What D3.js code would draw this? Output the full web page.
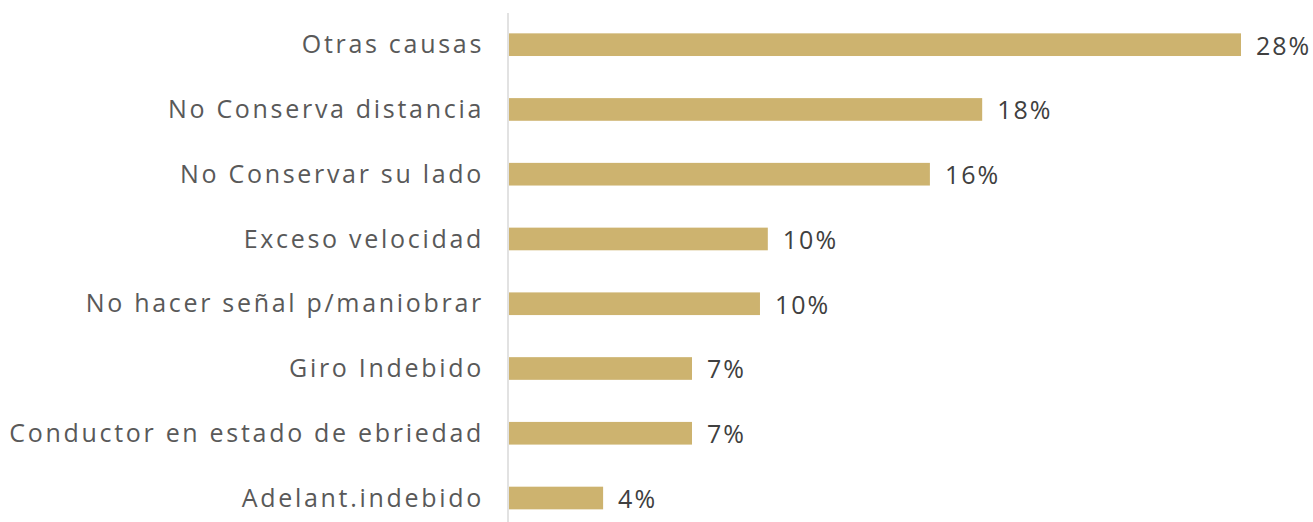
<!DOCTYPE html>
<html>
<head>
    <meta charset="utf-8">
    <style>
        body { margin: 0; background: #fff; }
        .cat { font-family: "Open Sans", sans-serif; font-size: 25px; fill: #595959; letter-spacing: 2.7px; }
        .val { font-family: "Open Sans", sans-serif; font-size: 25px; fill: #404040; letter-spacing: 2px; }
    </style>
</head>
<body>
    <script src="https://cdnjs.cloudflare.com/ajax/libs/d3/7.8.5/d3.min.js"></script>
    <script>
        // data
        var causes = ["Otras causas", "No Conserva distancia", "No Conservar su lado",
            "Exceso velocidad", "No hacer señal p/maniobrar", "Giro Indebido",
            "Conductor en estado de ebriedad", "Adelant.indebido"];
        var shares = [28.0, 18.1, 16.1, 9.9, 9.6, 7.0, 7.0, 3.6];
        var labels = ["28%", "18%", "16%", "10%", "10%", "7%", "7%", "4%"];

        var width = 1313, height = 522;
        var axisX = 509;

        var svg = d3.select("body").append("svg")
            .attr("width", width)
            .attr("height", height);

        var x = d3.scaleLinear().domain([0, 28]).range([axisX, 1241]);
        var y = d3.scaleBand().domain(causes).range([12.3, 530.4])
            .paddingInner(0.65).paddingOuter(0.325);

        // vertical axis line
        svg.append("line")
            .attr("x1", axisX - 1).attr("x2", axisX - 1)
            .attr("y1", 13).attr("y2", height)
            .attr("stroke", "#d9d9d9")
            .attr("stroke-width", 1.5);

        svg.selectAll(".bar")
            .data(causes)
            .enter().append("rect")
            .attr("class", "bar")
            .attr("x", x(0))
            .attr("y", function (d) { return y(d); })
            .attr("width", function (d, i) { return x(shares[i]) - x(0); })
            .attr("height", y.bandwidth())
            .attr("fill", "#cdb36f");

        // category labels, letter-spacing trails so pull them left a bit less
        svg.selectAll(".cat")
            .data(causes)
            .enter().append("text")
            .attr("class", "cat")
            .attr("x", axisX - 25)
            .attr("y", function (d) { return y(d) + y.bandwidth() / 2; })
            .attr("dy", "0.35em")
            .attr("text-anchor", "end")
            .text(function (d) { return d; });

        svg.selectAll(".val")
            .data(causes)
            .enter().append("text")
            .attr("class", "val")
            .attr("x", function (d, i) { return x(shares[i]) + 15; })
            .attr("y", function (d) { return y(d) + y.bandwidth() / 2; })
            .attr("dy", "0.4em")
            .text(function (d, i) { return labels[i]; });
    </script>
</body>
</html>
